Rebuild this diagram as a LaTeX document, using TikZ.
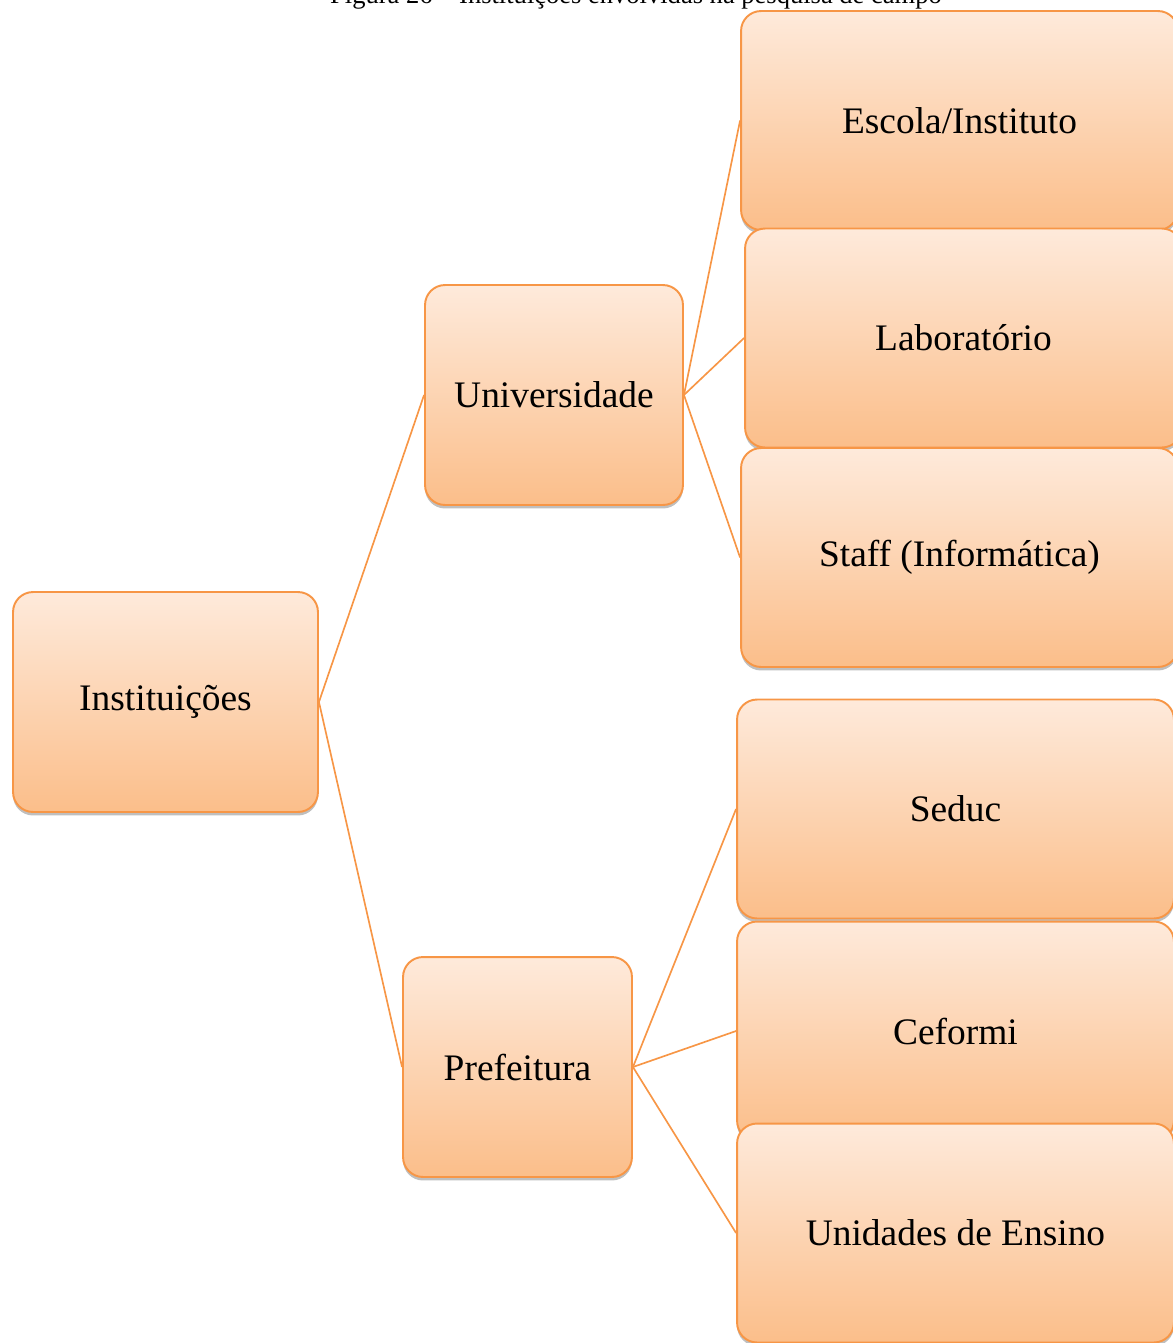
\documentclass[tikz,border=0pt]{standalone}
\usepackage{fontspec}
\setmainfont{Liberation Serif}
\usetikzlibrary{shadows,backgrounds}
\definecolor{boxline}{HTML}{F79646}
\definecolor{boxtop}{HTML}{FEEADB}
\definecolor{boxbot}{HTML}{FBBE8A}
\tikzset{
  orgbox/.style={draw=boxline, line width=1.1pt, rounded corners=0.4cm,
    top color=boxtop, bottom color=boxbot, inner sep=0pt, align=center,
    font=\fontsize{21.3}{25}\selectfont,
    drop shadow={shadow xshift=0pt, shadow yshift=-0.07cm, opacity=0.25, fill=black}},
  link/.style={draw=boxline, line width=0.95pt}
}
\begin{document}
\begin{tikzpicture}[x=0.02cm, y=-0.02cm]
\useasboundingbox (0,0) rectangle (1173,1343);
\node[anchor=base, font=\fontsize{15.1}{18}\selectfont] (cap) at (636,3) {Figura 26 -- Instituições envolvidas na pesquisa de campo};
\node[orgbox, minimum width=6.10cm, minimum height=4.40cm] (inst) at (165.5,702) {Instituições};
\node[orgbox, minimum width=5.16cm, minimum height=4.40cm] (univ) at (554,395) {Universidade};
\node[orgbox, minimum width=4.58cm, minimum height=4.40cm] (pref) at (517.5,1067) {Prefeitura};
\node[orgbox, minimum width=8.74cm, minimum height=4.38cm] (esc) at (959.5,120.5) {Escola/Instituto};
\node[orgbox, minimum width=8.74cm, minimum height=4.38cm] (lab) at (963.5,338) {Laboratório};
\node[orgbox, minimum width=8.74cm, minimum height=4.38cm] (staff) at (959.5,557.5) {Staff (Informática)};
\node[orgbox, minimum width=8.74cm, minimum height=4.38cm] (seduc) at (955.5,809) {Seduc};
\node[orgbox, minimum width=8.74cm, minimum height=4.38cm] (cef) at (955.5,1031) {Ceformi};
\node[orgbox, minimum width=8.74cm, minimum height=4.38cm] (unid) at (955.5,1233) {Unidades de Ensino};
\begin{scope}[on background layer]
\draw[link] (inst.east) -- (univ.west);
\draw[link] (inst.east) -- (pref.west);
\draw[link] (univ.east) -- (esc.west);
\draw[link] (univ.east) -- (lab.west);
\draw[link] (univ.east) -- (staff.west);
\draw[link] (pref.east) -- (seduc.west);
\draw[link] (pref.east) -- (cef.west);
\draw[link] (pref.east) -- (unid.west);
\end{scope}
\end{tikzpicture}
\end{document}
